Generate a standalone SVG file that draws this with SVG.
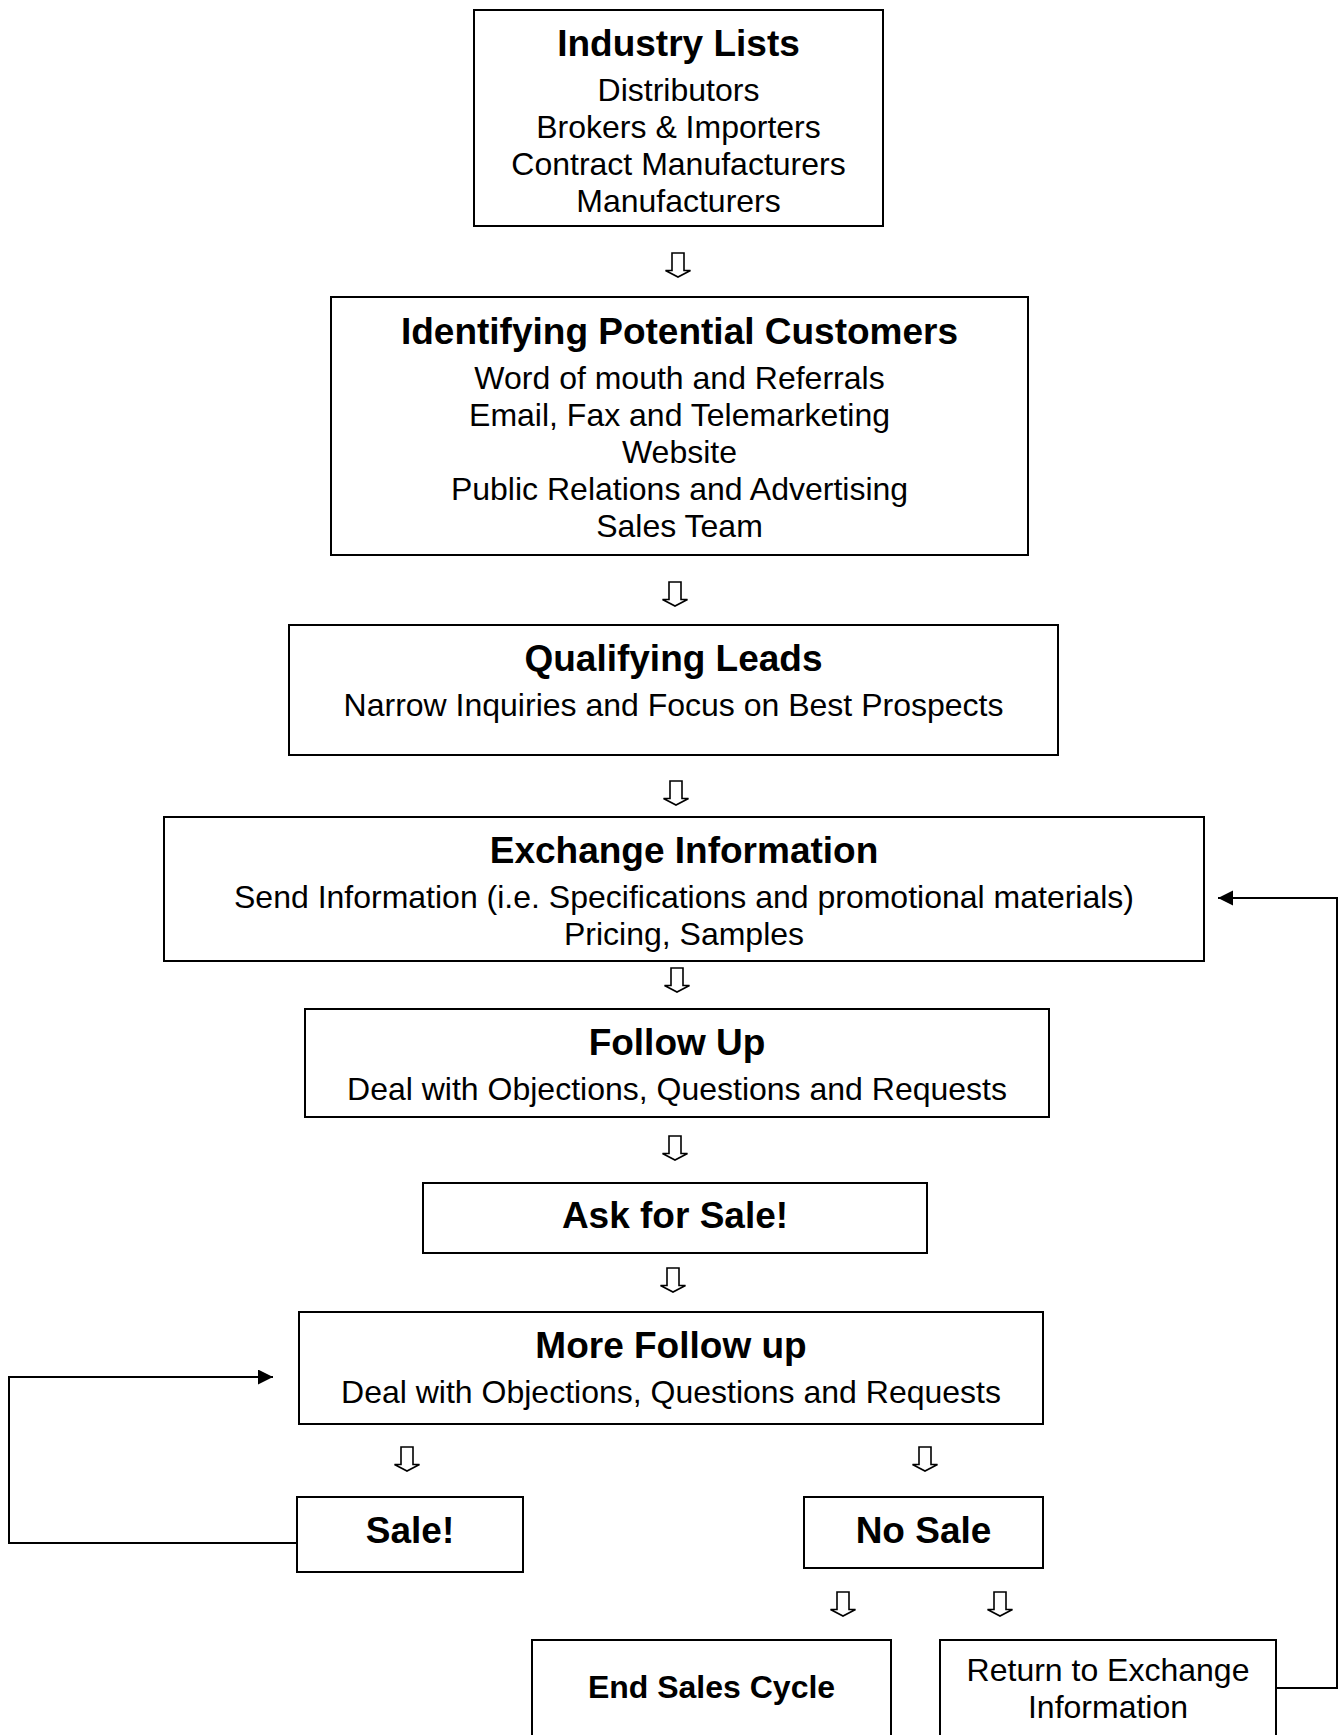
<svg xmlns="http://www.w3.org/2000/svg" xmlns:xlink="http://www.w3.org/1999/xlink" width="1343" height="1735" viewBox="0 0 1343 1735">
<style>
.box{fill:#fff;stroke:#000;stroke-width:2}
.t{font-family:"Liberation Sans",Arial,sans-serif;font-size:37px;font-weight:bold;text-anchor:middle;fill:#000}
.b{font-family:"Liberation Sans",Arial,sans-serif;font-size:32px;text-anchor:middle;fill:#000}
.tb{font-family:"Liberation Sans",Arial,sans-serif;font-size:32px;font-weight:bold;text-anchor:middle;fill:#000}
.ln{fill:none;stroke:#000;stroke-width:2}
.ha{fill:#fff;stroke:#000;stroke-width:1.6;stroke-linejoin:miter}
</style>
<defs>
<path id="hollow" d="M-6,0 H6 V17.5 H12.5 L0,24 L-12.5,17.5 H-6 Z"/>
<marker id="tri" markerUnits="userSpaceOnUse" markerWidth="16" markerHeight="16" refX="15" refY="7.5" orient="auto">
<path d="M0,0 L15,7.5 L0,15 Z" fill="#000"/>
</marker>
</defs>
<rect width="1343" height="1735" fill="#fff"/>
<g id="connectors">
<use xlink:href="#hollow" class="ha" x="678" y="253"/>
<use xlink:href="#hollow" class="ha" x="675" y="582"/>
<use xlink:href="#hollow" class="ha" x="676" y="781"/>
<use xlink:href="#hollow" class="ha" x="677" y="968"/>
<use xlink:href="#hollow" class="ha" x="675" y="1136"/>
<use xlink:href="#hollow" class="ha" x="673" y="1268"/>
<use xlink:href="#hollow" class="ha" x="407" y="1447"/>
<use xlink:href="#hollow" class="ha" x="925" y="1447"/>
<use xlink:href="#hollow" class="ha" x="843" y="1592"/>
<use xlink:href="#hollow" class="ha" x="1000" y="1592"/>
<path class="ln" d="M297,1543 H9 V1377 H273" marker-end="url(#tri)"/>
<path class="ln" d="M1276,1688 H1337 V898 H1218" marker-end="url(#tri)"/>
</g>
<g id="industry-lists">
<rect class="box" x="474" y="10" width="409" height="216"/>
<text class="t" x="678.5" y="56">Industry Lists</text>
<text class="b" x="678.5" y="101">Distributors</text>
<text class="b" x="678.5" y="138">Brokers &amp; Importers</text>
<text class="b" x="678.5" y="175">Contract Manufacturers</text>
<text class="b" x="678.5" y="212">Manufacturers</text>
</g>
<g id="identifying">
<rect class="box" x="331" y="297" width="697" height="258"/>
<text class="t" x="679.5" y="344">Identifying Potential Customers</text>
<text class="b" x="679.5" y="389">Word of mouth and Referrals</text>
<text class="b" x="679.5" y="426">Email, Fax and Telemarketing</text>
<text class="b" x="679.5" y="463">Website</text>
<text class="b" x="679.5" y="500">Public Relations and Advertising</text>
<text class="b" x="679.5" y="537">Sales Team</text>
</g>
<g id="qualifying">
<rect class="box" x="289" y="625" width="769" height="130"/>
<text class="t" x="673.5" y="671">Qualifying Leads</text>
<text class="b" x="673.5" y="716">Narrow Inquiries and Focus on Best Prospects</text>
</g>
<g id="exchange">
<rect class="box" x="164" y="817" width="1040" height="144"/>
<text class="t" x="684" y="863">Exchange Information</text>
<text class="b" x="684" y="908">Send Information (i.e. Specifications and promotional materials)</text>
<text class="b" x="684" y="945">Pricing, Samples</text>
</g>
<g id="follow-up">
<rect class="box" x="305" y="1009" width="744" height="108"/>
<text class="t" x="677" y="1055">Follow Up</text>
<text class="b" x="677" y="1100">Deal with Objections, Questions and Requests</text>
</g>
<g id="ask-for-sale">
<rect class="box" x="423" y="1183" width="504" height="70"/>
<text class="t" x="675" y="1228">Ask for Sale!</text>
</g>
<g id="more-follow-up">
<rect class="box" x="299" y="1312" width="744" height="112"/>
<text class="t" x="671" y="1358">More Follow up</text>
<text class="b" x="671" y="1403">Deal with Objections, Questions and Requests</text>
</g>
<g id="sale">
<rect class="box" x="297" y="1497" width="226" height="75"/>
<text class="t" x="410" y="1543">Sale!</text>
</g>
<g id="no-sale">
<rect class="box" x="804" y="1497" width="239" height="71"/>
<text class="t" x="923.5" y="1543">No Sale</text>
</g>
<g id="end-sales-cycle">
<rect class="box" x="532" y="1640" width="359" height="110"/>
<text class="tb" x="711.5" y="1698">End Sales Cycle</text>
</g>
<g id="return">
<rect class="box" x="940" y="1640" width="336" height="110"/>
<text class="b" x="1108" y="1681">Return to Exchange</text>
<text class="b" x="1108" y="1718">Information</text>
</g>
</svg>
